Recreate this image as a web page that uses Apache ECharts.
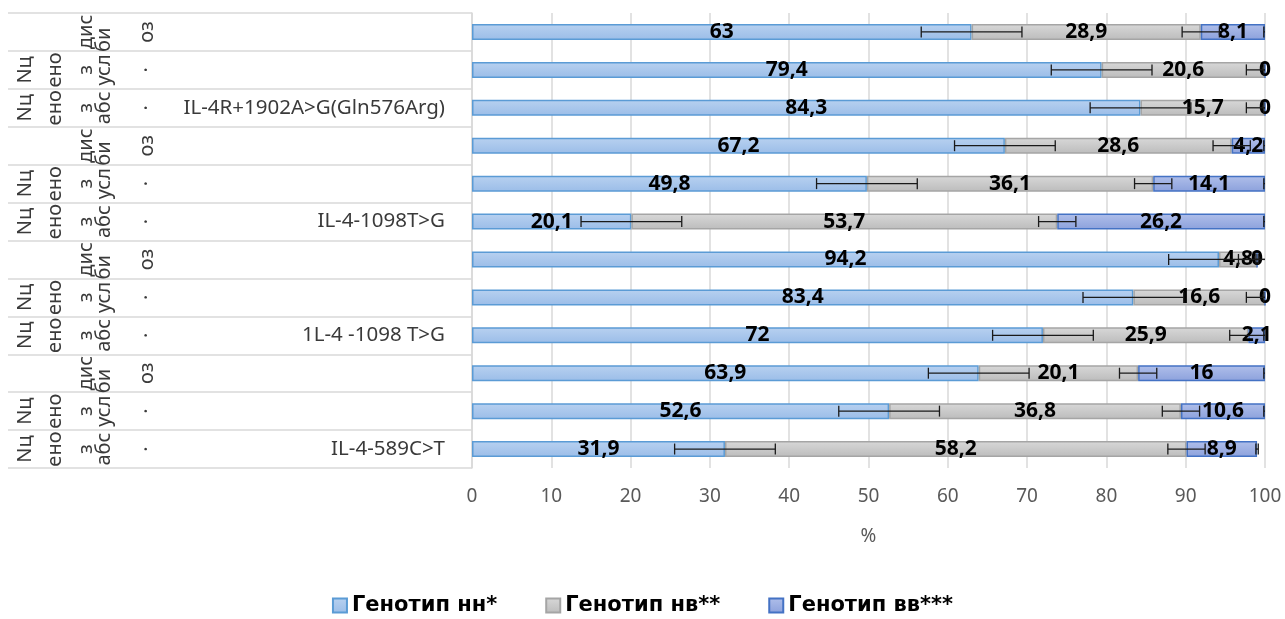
<!DOCTYPE html>
<html>
<head>
<meta charset="utf-8">
<script src="https://cdn.jsdelivr.net/npm/echarts@6/dist/echarts.min.js"></script>
<style>
  html, body { margin: 0; padding: 0; background: #fff; }
  #chart { width: 1285px; height: 619px; }
</style>
</head>
<body>
<div id="chart"></div>
<script>
// значения по строкам сверху вниз
const seriesNames = ['Генотип нн*', 'Генотип нв**', 'Генотип вв***'];
const nn = [63, 79.4, 84.3, 67.2, 49.8, 20.1, 94.2, 83.4, 72, 63.9, 52.6, 31.9];
const nv = [28.9, 20.6, 15.7, 28.6, 36.1, 53.7, 4.8, 16.6, 25.9, 20.1, 36.8, 58.2];
const vv = [8.1, 0, 0, 4.2, 14.1, 26.2, 0, 0, 2.1, 16, 10.6, 8.9];
// величина погрешности для каждого ряда
const errSize = [6.35, 2.35, 0.15];

// подписи категорий (многоуровневая ось)
const geneLabels = ['', '', 'IL-4R+1902A>G(Gln576Arg)', '', '', 'IL-4-1098T>G',
  '', '', '1L-4 -1098 T>G', '', '', 'IL-4-589C>T'];
const col1 = ['', 'Nц', 'Nц', '', 'Nц', 'Nц', '', 'Nц', 'Nц', '', 'Nц', 'Nц'];
const col2 = ['', 'ено', 'ено', '', 'ено', 'ено', '', 'ено', 'ено', '', 'ено', 'ено'];
const col3 = ['дис', 'з', 'з', 'дис', 'з', 'з', 'дис', 'з', 'з', 'дис', 'з', 'з'];
const col4 = ['би', 'усл', 'абс', 'би', 'усл', 'абс', 'би', 'усл', 'абс', 'би', 'усл', 'абс'];
const col5 = ['оз', '·', '·', 'оз', '·', '·', 'оз', '·', '·', 'оз', '·', '·'];
const xTicks = [0, 10, 20, 30, 40, 50, 60, 70, 80, 90, 100];

const FONT = 'Noto Sans';
const GRID_LEFT = 472;

const chart = echarts.init(document.getElementById('chart'));

function grad(top, bottom) {
  return new echarts.graphic.LinearGradient(0, 0, 0, 1, [
    { offset: 0, color: top },
    { offset: 1, color: bottom }
  ]);
}

const styles = [
  { color: grad('#b8d1f0', '#9bbde8'), borderColor: '#5b9bd5' },
  { color: grad('#d8d8d8', '#bcbcbc'), borderColor: '#a5a5a5' },
  { color: grad('#b0bfea', '#8ca1dc'), borderColor: '#4472c4' }
];

// колонка повёрнутых подписей слева
function labelAxis(data, cx) {
  return {
    type: 'category',
    inverse: true,
    position: 'left',
    offset: GRID_LEFT - cx,
    data: data,
    axisLine: { show: false },
    axisTick: { show: false },
    splitLine: { show: false },
    axisLabel: {
      interval: 0, rotate: 90, margin: 0,
      align: 'center', verticalAlign: 'middle',
      fontFamily: FONT, fontSize: 20, color: '#3a3a3a',
      formatter: function (v) { return v === 'би' ? 'би   ' : v; }
    }
  };
}

const values = [nn, nv, vv];

const barSeries = values.map(function (arr, k) {
  return {
    name: seriesNames[k],
    type: 'bar',
    stack: 'total',
    barWidth: 16,
    z: 2,
    data: arr,
    itemStyle: {
      color: styles[k].color,
      borderColor: styles[k].borderColor,
      borderWidth: 1.5
    },
    label: {
      show: true,
      position: 'inside',
      fontFamily: FONT,
      fontSize: 21,
      fontWeight: 'bold',
      color: '#000',
      formatter: function (p) { return String(p.value).replace('.', ','); }
    }
  };
});

function renderErr(params, api) {
  const end = api.value(0), cat = api.value(1), e = api.value(2);
  const lo = Math.max(0, end - e), hi = Math.min(100, end + e);
  const pLo = api.coord([lo, cat]), pHi = api.coord([hi, cat]);
  const y = pLo[1];
  const capH = 5.5;
  const st = { stroke: '#1a1a1a', lineWidth: 1.3 };
  const children = [{ type: 'line', shape: { x1: pLo[0], y1: y, x2: pHi[0], y2: y }, style: st }];
  if (end - e >= 0) children.push({ type: 'line', shape: { x1: pLo[0], y1: y - capH, x2: pLo[0], y2: y + capH }, style: st });
  if (end + e <= 100) children.push({ type: 'line', shape: { x1: pHi[0], y1: y - capH, x2: pHi[0], y2: y + capH }, style: st });
  return { type: 'group', children: children };
}

const errSeries = values.map(function (arr, k) {
  const data = arr.map(function (v, i) {
    let end = 0;
    for (let j = 0; j <= k; j++) end += values[j][i];
    return [Math.round(end * 10) / 10, i, errSize[k]];
  });
  return {
    type: 'custom',
    z: 3,
    silent: true,
    renderItem: renderErr,
    encode: { x: 0, y: 1 },
    data: data
  };
});

const option = {
  animation: false,
  textStyle: { fontFamily: FONT },
  grid: { left: GRID_LEFT, right: 20, top: 13, bottom: 151, outerBoundsMode: 'none' },
  legend: {
    data: seriesNames,
    bottom: -2,
    left: 'center',
    icon: 'rect',
    itemWidth: 14,
    itemHeight: 14,
    itemGap: 48,
    textStyle: { fontFamily: 'DejaVu Sans', fontSize: 21, fontWeight: 'bold', color: '#000' }
  },
  xAxis: {
    type: 'value',
    min: xTicks[0],
    max: xTicks[xTicks.length - 1],
    interval: 10,
    name: '%',
    nameLocation: 'middle',
    nameGap: 59,
    nameTextStyle: { fontFamily: FONT, fontSize: 19, color: '#595959' },
    axisLine: { show: false },
    axisTick: { show: false },
    axisLabel: { margin: 19, fontFamily: FONT, fontSize: 19, color: '#595959' },
    splitLine: { show: true, lineStyle: { color: '#d9d9d9', width: 1.5 } }
  },
  yAxis: [
    {
      type: 'category',
      inverse: true,
      data: geneLabels,
      axisLine: { show: true, lineStyle: { color: '#d9d9d9', width: 1.5 } },
      axisTick: { show: true, interval: 0, length: 464, lineStyle: { color: '#d9d9d9', width: 1.5 } },
      axisLabel: { interval: 0, margin: 27, fontFamily: FONT, fontSize: 20.5, color: '#3a3a3a' }
    },
    labelAxis(col1, 25),
    labelAxis(col2, 55),
    labelAxis(col3, 86),
    labelAxis(col4, 104),
    labelAxis(col5, 147)
  ],
  series: barSeries.concat(errSeries)
};

chart.setOption(option);
</script>
</body>
</html>
